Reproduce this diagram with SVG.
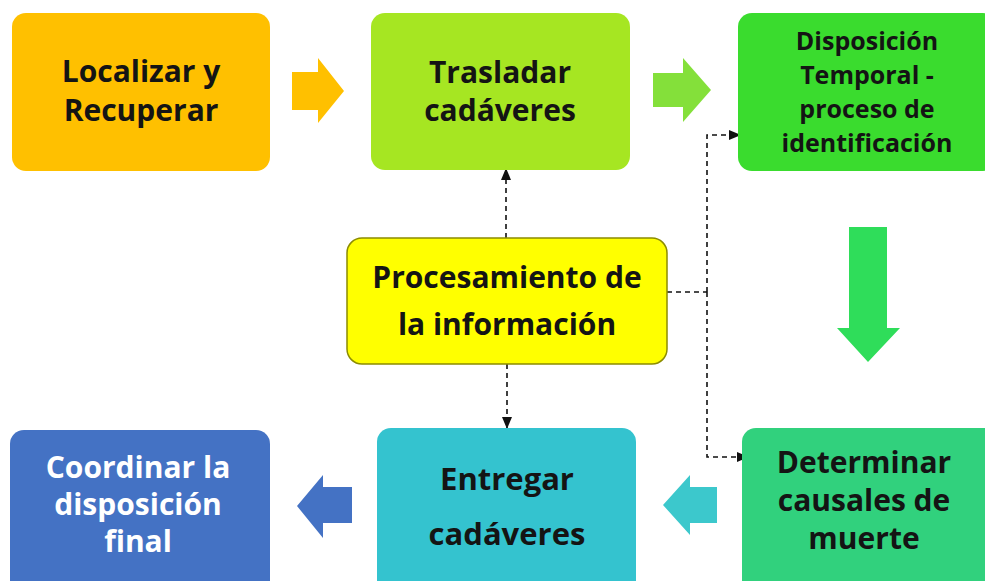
<svg xmlns="http://www.w3.org/2000/svg" width="985" height="581" viewBox="0 0 985 581">
<defs>
<style>
.t{font-family:"Open Sans","Liberation Sans",sans-serif;font-weight:700;fill:#141414;text-anchor:middle}
.w{fill:#ffffff}
.dash{fill:none;stroke:#111;stroke-width:1.6;stroke-dasharray:5 4}
</style>
<marker id="ah" markerUnits="userSpaceOnUse" markerWidth="12" markerHeight="10" refX="11" refY="5" orient="auto">
<path d="M0,0 L12,5 L0,10 Z" fill="#111"/>
</marker>
</defs>
<rect width="985" height="581" fill="#ffffff"/>

<g id="arrows">
<polygon points="292,72 318,72 318,58 344,91 318,123 318,110 292,110" fill="#FFC000"/>
<polygon points="653,73 683,73 683,58 711,90 683,122 683,107 653,107" fill="#84E03A"/>
<polygon points="849,227 887,227 887,328 900,328 868,362 837,328 849,328" fill="#2FDD5A"/>
<polygon points="717,487 717,523 690,523 690,535 663,505 690,475 690,487" fill="#3CC8CC"/>
<polygon points="352,487 352,523 323,523 323,538 297,506 323,475 323,487" fill="#4472C4"/>
</g>

<g id="connectors">
<path class="dash" d="M506,238 V169" marker-end="url(#ah)"/>
<path class="dash" d="M507,364 V428" marker-end="url(#ah)"/>
<path class="dash" d="M667,292 H707"/>
<path class="dash" d="M707,292 V135 H740" marker-end="url(#ah)"/>
<path class="dash" d="M707,292 V457 H748" marker-end="url(#ah)"/>
</g>

<g id="localizar">
<rect x="12" y="13" width="258" height="158" rx="14" fill="#FFC000"/>
<text class="t" font-size="30" x="141" y="82">Localizar y</text>
<text class="t" font-size="30" x="141" y="121">Recuperar</text>
</g>

<g id="trasladar">
<rect x="371" y="13" width="259" height="157" rx="14" fill="#A6E622"/>
<text class="t" font-size="30" x="500" y="83">Trasladar</text>
<text class="t" font-size="30" x="500" y="121">cadáveres</text>
</g>

<g id="disposicion">
<rect x="738" y="13" width="259" height="158" rx="14" fill="#3ADC2E"/>
<text class="t" font-size="25" x="867" y="50">Disposición</text>
<text class="t" font-size="25" x="867" y="84">Temporal -</text>
<text class="t" font-size="25" x="867" y="118">proceso de</text>
<text class="t" font-size="25" x="867" y="152">identificación</text>
</g>

<g id="procesamiento">
<rect x="347" y="238" width="320" height="126" rx="15" fill="#FFFF00" stroke="#8C8C00" stroke-width="1.5"/>
<text class="t" font-size="30" x="507" y="288">Procesamiento de</text>
<text class="t" font-size="30" x="507" y="335">la información</text>
</g>

<g id="coordinar">
<rect x="10" y="430" width="260" height="170" rx="14" fill="#4472C4"/>
<text class="t w" font-size="30" x="138" y="478">Coordinar la</text>
<text class="t w" font-size="30" x="138" y="515">disposición</text>
<text class="t w" font-size="30" x="138" y="552">final</text>
</g>

<g id="entregar">
<rect x="377" y="428" width="259" height="172" rx="14" fill="#34C3CF"/>
<text class="t" font-size="31" x="507" y="490">Entregar</text>
<text class="t" font-size="31" x="507" y="545">cadáveres</text>
</g>

<g id="determinar">
<rect x="742" y="428" width="259" height="172" rx="14" fill="#31D17D"/>
<text class="t" font-size="30" x="864" y="473">Determinar</text>
<text class="t" font-size="30" x="864" y="511">causales de</text>
<text class="t" font-size="30" x="864" y="549">muerte</text>
</g>
</svg>
